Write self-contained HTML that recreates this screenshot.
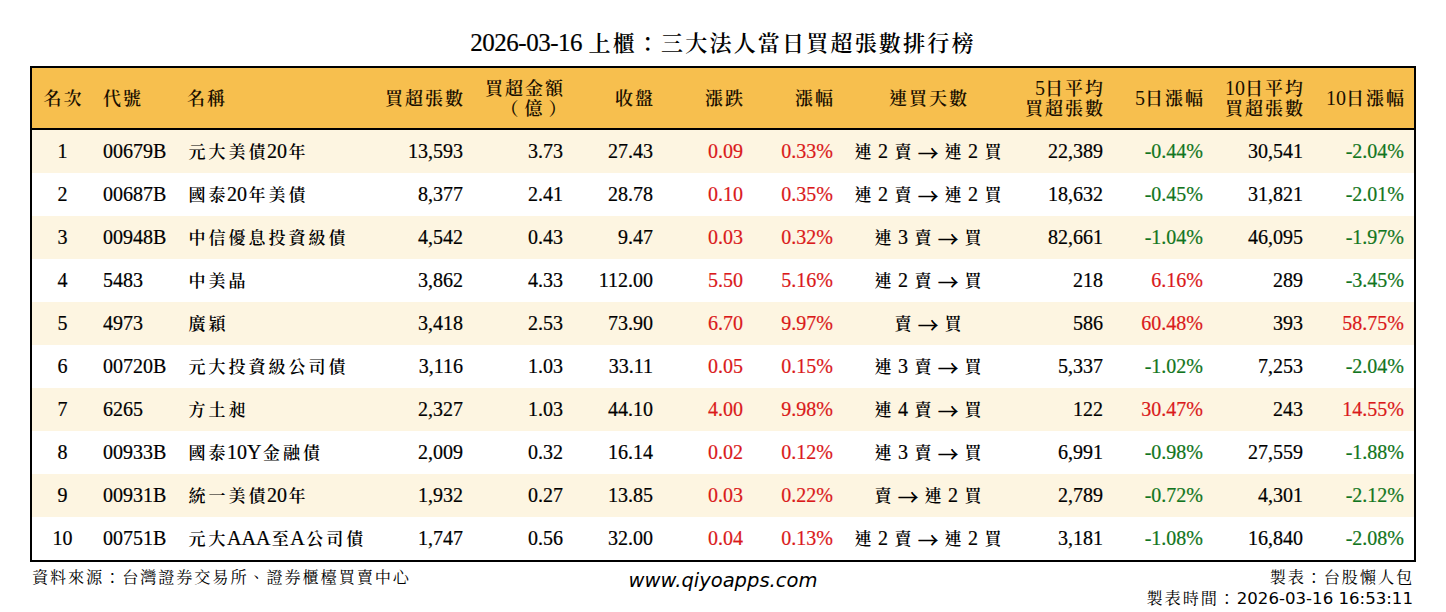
<!DOCTYPE html>
<html lang="zh-Hant">
<head>
<meta charset="utf-8">
<title>2026-03-16 上櫃：三大法人當日買超張數排行榜</title>
<style>
html,body{margin:0;padding:0;background:#fff;}
body{width:1446px;height:612px;position:relative;overflow:hidden;
  font-family:"Liberation Serif","Noto Serif CJK TC","Noto Serif CJK SC",serif;color:#000;}
.title{position:absolute;left:0;top:26px;width:1446px;text-align:center;font-size:24px;line-height:32px;white-space:nowrap;}
table{position:absolute;left:30px;top:66px;border-collapse:separate;border-spacing:0;table-layout:fixed;width:1386px;
  border:2px solid #000;font-size:20px;}
th,td{padding:0 10px;white-space:nowrap;overflow:visible;}
thead tr{background:#F7BF4E;}
thead th{height:62px;box-sizing:border-box;font-weight:normal;line-height:20px;border-bottom:2px solid #000;vertical-align:middle;padding-bottom:0;color:#1a0f00;}
tbody tr{height:43px;}
tbody tr:nth-child(odd){background:#FDF5E1;}
tbody tr:nth-child(even){background:#fff;}
td{line-height:22px;vertical-align:middle;padding-bottom:2px;-webkit-text-stroke:0.2px currentColor;}
.c{text-align:center}.l{text-align:left}.r{text-align:right}
.red{color:#DA1A1A}.grn{color:#127520}
.k,.hk,.tk,.fk{font-family:"Noto Serif CJK TC","Noto Serif CJK SC",serif;}
.k{font-size:17px;letter-spacing:3px;font-weight:600;padding-left:1.5px;margin-right:-1.5px;-webkit-text-stroke:0;}
.hk{font-size:18px;letter-spacing:2px;font-weight:600;margin-right:-2px;line-height:16px;}
.tk{font-size:22px;letter-spacing:2.2px;font-weight:600;}
.fk{font-size:16.2px;letter-spacing:1.85px;}
.ar{font-family:"Noto Serif CJK TC","Noto Serif CJK SC",serif;font-size:20px;-webkit-text-stroke:0.7px currentColor;position:relative;top:2.5px;}
.foot{position:absolute;font-size:17px;line-height:20px;white-space:nowrap;}
.src{left:32px;top:566px;}
.web{left:0;width:1446px;top:570px;text-align:center;font-family:"DejaVu Sans",sans-serif;font-style:italic;font-size:19.5px;line-height:22px;}
.mk{right:32px;top:566px;text-align:right;}
.tm{right:33px;top:587px;text-align:right;}
.ts{font-family:"DejaVu Sans",sans-serif;font-size:16.6px;}

.hk.pr{letter-spacing:6px;margin-right:-9.5px;}
.tdt{font-size:25px;letter-spacing:-0.5px;margin-right:0.5px;-webkit-text-stroke:0.2px currentColor;}

</style>
</head>
<body>
<div class="title"><span class="tdt">2026-03-16</span> <span class="tk">上櫃：三大法人當日買超張數排行榜</span></div>
<table>
<colgroup><col style="width:61px"><col style="width:84px"><col style="width:196px"><col style="width:100px"><col style="width:100px"><col style="width:90px"><col style="width:90px"><col style="width:90px"><col style="width:170px"><col style="width:100px"><col style="width:100px"><col style="width:100px"><col style="width:101px"></colgroup>
<thead><tr><th class="c"><span class="hk">名次</span></th><th class="l"><span class="hk">代號</span></th><th class="l"><span class="hk">名稱</span></th><th class="r"><span class="hk">買超張數</span></th><th class="r"><span class="hk">買超金額</span><br><span class="hk pr">（億）</span></th><th class="r"><span class="hk">收盤</span></th><th class="r"><span class="hk">漲跌</span></th><th class="r"><span class="hk">漲幅</span></th><th class="c"><span class="hk">連買天數</span></th><th class="r">5<span class="hk">日平均</span><br><span class="hk">買超張數</span></th><th class="r">5<span class="hk">日漲幅</span></th><th class="r">10<span class="hk">日平均</span><br><span class="hk">買超張數</span></th><th class="r">10<span class="hk">日漲幅</span></th></tr></thead>
<tbody>
<tr><td class="c">1</td><td class="l">00679B</td><td class="l"><span class="k">元大美債</span>20<span class="k">年</span></td><td class="r">13,593</td><td class="r">3.73</td><td class="r">27.43</td><td class="r red">0.09</td><td class="r red">0.33%</td><td class="c"><span class="k">連</span> 2 <span class="k">賣</span> <span class="ar">→</span> <span class="k">連</span> 2 <span class="k">買</span></td><td class="r">22,389</td><td class="r grn">-0.44%</td><td class="r">30,541</td><td class="r grn">-2.04%</td></tr>
<tr><td class="c">2</td><td class="l">00687B</td><td class="l"><span class="k">國泰</span>20<span class="k">年美債</span></td><td class="r">8,377</td><td class="r">2.41</td><td class="r">28.78</td><td class="r red">0.10</td><td class="r red">0.35%</td><td class="c"><span class="k">連</span> 2 <span class="k">賣</span> <span class="ar">→</span> <span class="k">連</span> 2 <span class="k">買</span></td><td class="r">18,632</td><td class="r grn">-0.45%</td><td class="r">31,821</td><td class="r grn">-2.01%</td></tr>
<tr><td class="c">3</td><td class="l">00948B</td><td class="l"><span class="k">中信優息投資級債</span></td><td class="r">4,542</td><td class="r">0.43</td><td class="r">9.47</td><td class="r red">0.03</td><td class="r red">0.32%</td><td class="c"><span class="k">連</span> 3 <span class="k">賣</span> <span class="ar">→</span> <span class="k">買</span></td><td class="r">82,661</td><td class="r grn">-1.04%</td><td class="r">46,095</td><td class="r grn">-1.97%</td></tr>
<tr><td class="c">4</td><td class="l">5483</td><td class="l"><span class="k">中美晶</span></td><td class="r">3,862</td><td class="r">4.33</td><td class="r">112.00</td><td class="r red">5.50</td><td class="r red">5.16%</td><td class="c"><span class="k">連</span> 2 <span class="k">賣</span> <span class="ar">→</span> <span class="k">買</span></td><td class="r">218</td><td class="r red">6.16%</td><td class="r">289</td><td class="r grn">-3.45%</td></tr>
<tr><td class="c">5</td><td class="l">4973</td><td class="l"><span class="k">廣穎</span></td><td class="r">3,418</td><td class="r">2.53</td><td class="r">73.90</td><td class="r red">6.70</td><td class="r red">9.97%</td><td class="c"><span class="k">賣</span> <span class="ar">→</span> <span class="k">買</span></td><td class="r">586</td><td class="r red">60.48%</td><td class="r">393</td><td class="r red">58.75%</td></tr>
<tr><td class="c">6</td><td class="l">00720B</td><td class="l"><span class="k">元大投資級公司債</span></td><td class="r">3,116</td><td class="r">1.03</td><td class="r">33.11</td><td class="r red">0.05</td><td class="r red">0.15%</td><td class="c"><span class="k">連</span> 3 <span class="k">賣</span> <span class="ar">→</span> <span class="k">買</span></td><td class="r">5,337</td><td class="r grn">-1.02%</td><td class="r">7,253</td><td class="r grn">-2.04%</td></tr>
<tr><td class="c">7</td><td class="l">6265</td><td class="l"><span class="k">方土昶</span></td><td class="r">2,327</td><td class="r">1.03</td><td class="r">44.10</td><td class="r red">4.00</td><td class="r red">9.98%</td><td class="c"><span class="k">連</span> 4 <span class="k">賣</span> <span class="ar">→</span> <span class="k">買</span></td><td class="r">122</td><td class="r red">30.47%</td><td class="r">243</td><td class="r red">14.55%</td></tr>
<tr><td class="c">8</td><td class="l">00933B</td><td class="l"><span class="k">國泰</span>10Y<span class="k">金融債</span></td><td class="r">2,009</td><td class="r">0.32</td><td class="r">16.14</td><td class="r red">0.02</td><td class="r red">0.12%</td><td class="c"><span class="k">連</span> 3 <span class="k">賣</span> <span class="ar">→</span> <span class="k">買</span></td><td class="r">6,991</td><td class="r grn">-0.98%</td><td class="r">27,559</td><td class="r grn">-1.88%</td></tr>
<tr><td class="c">9</td><td class="l">00931B</td><td class="l"><span class="k">統一美債</span>20<span class="k">年</span></td><td class="r">1,932</td><td class="r">0.27</td><td class="r">13.85</td><td class="r red">0.03</td><td class="r red">0.22%</td><td class="c"><span class="k">賣</span> <span class="ar">→</span> <span class="k">連</span> 2 <span class="k">買</span></td><td class="r">2,789</td><td class="r grn">-0.72%</td><td class="r">4,301</td><td class="r grn">-2.12%</td></tr>
<tr><td class="c">10</td><td class="l">00751B</td><td class="l"><span class="k">元大</span>AAA<span class="k">至</span>A<span class="k">公司債</span></td><td class="r">1,747</td><td class="r">0.56</td><td class="r">32.00</td><td class="r red">0.04</td><td class="r red">0.13%</td><td class="c"><span class="k">連</span> 2 <span class="k">賣</span> <span class="ar">→</span> <span class="k">連</span> 2 <span class="k">買</span></td><td class="r">3,181</td><td class="r grn">-1.08%</td><td class="r">16,840</td><td class="r grn">-2.08%</td></tr>
</tbody>
</table>
<div class="foot src"><span class="fk">資料來源：台灣證券交易所、證券櫃檯買賣中心</span></div>
<div class="foot web">www.qiyoapps.com</div>
<div class="foot mk"><span class="fk">製表：台股懶人包</span></div>
<div class="foot tm"><span class="fk">製表時間：</span><span class="ts">2026-03-16 16:53:11</span></div>
</body>
</html>
